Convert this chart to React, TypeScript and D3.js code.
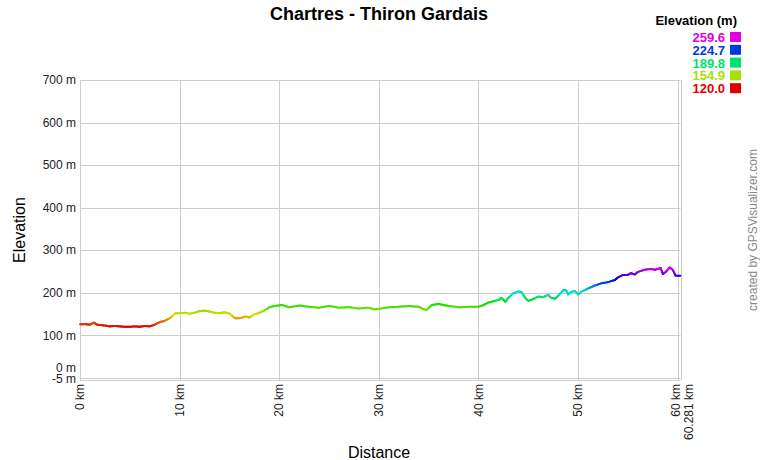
import React from "react";
import * as d3 from "d3";

const distanceKm = [0, 0.5, 1.0, 1.4, 1.7, 2.0, 2.5, 3.0, 3.5, 4.0, 4.5, 5.0, 5.5, 6.0, 6.5, 7.0, 7.5, 8.0, 8.5, 9.0, 9.3, 9.6,
  10.0, 10.5, 11.0, 11.5, 12.0, 12.5, 13.0, 13.5, 14.0, 14.5, 15.0, 15.3, 15.6, 16.0, 16.3, 16.6, 17.0, 17.5, 18.0, 18.5, 19.0, 19.5,
  20.3, 21.0, 22.0, 23.0, 24.0, 25.0, 26.0, 27.0, 28.0, 29.0, 29.5, 30.0, 31.0, 32.0, 33.0, 34.0, 34.5, 34.8, 35.3, 36.0, 36.5, 37.0,
  38.0, 39.0, 40.0, 40.5, 41.0, 42.0, 42.3, 42.7, 43.0, 43.5, 44.0, 44.3, 44.7, 45.0, 45.5, 46.0, 46.5, 47.0, 47.3, 47.7, 48.0, 48.5,
  48.8, 49.0, 49.3, 49.7, 50.0, 50.3, 51.0, 51.7, 52.3, 53.0, 53.7, 54.0, 54.5, 55.0, 55.3, 55.7, 56.0, 56.7, 57.3, 57.7, 58.0, 58.3,
  58.5, 58.8, 59.2, 59.5, 59.8, 60.281];
const elevationM = [126, 126, 125, 130, 125, 124, 123, 121, 122, 121, 120, 120, 121, 120, 122, 121, 125, 131, 134, 140, 146, 152,
  152, 153, 151, 153, 157, 158, 156, 153, 152, 154, 151, 145, 140, 140, 142, 144, 142, 149, 153, 158, 166, 169,
  171, 166, 170, 167, 165, 169, 165, 166, 163, 165, 161, 162, 166, 167, 169, 167, 161, 160, 171, 174, 171, 169,
  166, 167, 167, 171, 177, 183, 188, 179, 188, 199, 203, 202, 188, 181, 185, 191, 190, 195, 188, 186, 193, 206,
  206, 196, 202, 204, 196, 202, 210, 217, 222, 225, 230, 236, 242, 242, 246, 243, 249, 254, 256, 254, 256, 258,
  244, 249, 259.6, 254, 240, 240];

const yTicks = [700, 600, 500, 400, 300, 200, 100, 0, -5];
const xTicks = [0, 10, 20, 30, 40, 50, 60, 60.281];
const legendValues = [259.6, 224.7, 189.8, 154.9, 120.0];

const W = 760, H = 460;
const left = 80, right = 680.5, top = 80, bottom = 380;
const minE = 120, maxE = 259.6;

const colorFor = (e: number) => d3.hsl(300 * (e - minE) / (maxE - minE), 1, 0.44).formatHex();

export default function App() {
  const x = d3.scaleLinear().domain([0, 60.281]).range([left, right]);
  const y = d3.scaleLinear().domain([-5, 700]).range([bottom, top]);
  const font = "Arial, 'Liberation Sans', Helvetica, sans-serif";

  const segs: { x1: number; y1: number; x2: number; y2: number; c: string }[] = [];
  for (let i = 0; i < distanceKm.length - 1; i++) {
    const n = 4;
    for (let k = 0; k < n; k++) {
      const t1 = k / n, t2 = (k + 1) / n;
      const d1 = distanceKm[i] + (distanceKm[i + 1] - distanceKm[i]) * t1;
      const d2 = distanceKm[i] + (distanceKm[i + 1] - distanceKm[i]) * t2;
      const e1 = elevationM[i] + (elevationM[i + 1] - elevationM[i]) * t1;
      const e2 = elevationM[i] + (elevationM[i + 1] - elevationM[i]) * t2;
      segs.push({ x1: x(d1), y1: y(e1), x2: x(d2), y2: y(e2), c: colorFor((e1 + e2) / 2) });
    }
  }

  const yLabelPos = (v: number) => (v === 0 ? y(0) - 10 : v === -5 ? y(-5) - 1.5 : y(v));
  const xLabelPos = (v: number) => (v === 60 ? x(60) - 2 : v === 60.281 ? x(60.281) + 8 : x(v));

  return (
    <svg width={W} height={H} style={{ position: "absolute", left: 0, top: 0, background: "#fff" }} fontFamily={font}>
      <rect x={0} y={0} width={W} height={H} fill="#fff" />
      <text x={379} y={20} textAnchor="middle" fontSize={18} fontWeight="bold" fill="#000">Chartres - Thiron Gardais</text>

      {yTicks.map((v) => (
        <line key={"gy" + v} x1={left} x2={right} y1={Math.round(y(v)) + 0.5} y2={Math.round(y(v)) + 0.5} stroke="#cccccc" strokeWidth={1} />
      ))}
      {xTicks.map((v) => (
        <line key={"gx" + v} x1={Math.round(x(v)) + 0.5} x2={Math.round(x(v)) + 0.5} y1={top} y2={bottom} stroke="#cccccc" strokeWidth={1} />
      ))}
      <line x1={left + 0.5} x2={left + 0.5} y1={top} y2={bottom} stroke="#cccccc" />

      {yTicks.map((v) => (
        <text key={"ty" + v} x={76} y={yLabelPos(v)} dy="0.35em" textAnchor="end" fontSize={12} fill="#222">{v} m</text>
      ))}
      {xTicks.map((v) => (
        <text key={"tx" + v} transform={`translate(${xLabelPos(v)},${bottom + 4}) rotate(-90)`} dy="0.35em" textAnchor="end" fontSize={12} fill="#222">{v} km</text>
      ))}

      <text transform={`translate(25,230) rotate(-90)`} textAnchor="middle" fontSize={16} fill="#000">Elevation</text>
      <text x={379} y={458} textAnchor="middle" fontSize={16} fill="#000">Distance</text>

      {segs.map((s, i) => (
        <line key={"s" + i} x1={s.x1} y1={s.y1} x2={s.x2} y2={s.y2} stroke={s.c} strokeWidth={2} strokeLinecap="round" />
      ))}

      <text x={737} y={25} textAnchor="end" fontSize={13} fontWeight="bold" fill="#000">Elevation (m)</text>
      {legendValues.map((v, i) => (
        <g key={"lg" + i}>
          <text x={725} y={42 + i * 12.8} textAnchor="end" fontSize={13} fontWeight="bold" fill={colorFor(v)}>{v.toFixed(1)}</text>
          <rect x={730} y={32 + i * 12.8} width={11} height={10} fill={colorFor(v)} />
        </g>
      ))}

      <text transform={`translate(757,230) rotate(-90)`} textAnchor="middle" fontSize={12} fill="#888">created by GPSVisualizer.com</text>
    </svg>
  );
}
